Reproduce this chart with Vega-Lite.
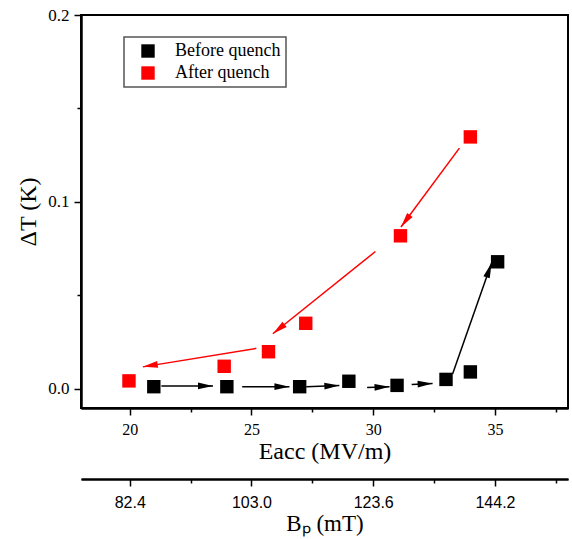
{
  "$schema": "https://vega.github.io/schema/vega-lite/v6.json",
  "width": 487,
  "height": 393,
  "autosize": {"type": "none"},
  "padding": {"left": 81, "top": 15, "right": 4, "bottom": 131},
  "background": "white",
  "datasets": {
    "pts": [
      {"series": "Before quench", "x": 20.99, "y": 0.0012},
      {"series": "Before quench", "x": 23.99, "y": 0.0012},
      {"series": "Before quench", "x": 26.98, "y": 0.0012},
      {"series": "Before quench", "x": 29.0, "y": 0.0041},
      {"series": "Before quench", "x": 30.98, "y": 0.0019},
      {"series": "Before quench", "x": 32.99, "y": 0.0051},
      {"series": "Before quench", "x": 33.99, "y": 0.0091},
      {"series": "Before quench", "x": 35.11, "y": 0.068},
      {"series": "After quench", "x": 19.97, "y": 0.0043},
      {"series": "After quench", "x": 23.88, "y": 0.0121},
      {"series": "After quench", "x": 25.7, "y": 0.0199},
      {"series": "After quench", "x": 27.23, "y": 0.0351},
      {"series": "After quench", "x": 31.12, "y": 0.0819},
      {"series": "After quench", "x": 33.99, "y": 0.1348}
    ],
    "arr": [
      {"series": "Before quench", "xs": 21.30, "ys": 0.0016, "xe": 23.42, "ye": 0.0016},
      {"series": "Before quench", "xs": 24.62, "ys": 0.0012, "xe": 26.56, "ye": 0.0012},
      {"series": "Before quench", "xs": 27.25, "ys": 0.0011, "xe": 28.61, "ye": 0.0019},
      {"series": "Before quench", "xs": 29.75, "ys": 0.0007, "xe": 30.67, "ye": 0.0011},
      {"series": "Before quench", "xs": 31.58, "ys": 0.0024, "xe": 32.44, "ye": 0.0029},
      {"series": "Before quench", "xs": 33.26, "ys": 0.008, "xe": 34.86, "ye": 0.0673},
      {"series": "After quench", "xs": 33.54, "ys": 0.1288, "xe": 31.14, "ye": 0.0866},
      {"series": "After quench", "xs": 30.09, "ys": 0.0735, "xe": 25.88, "ye": 0.0295},
      {"series": "After quench", "xs": 25.20, "ys": 0.0217, "xe": 20.54, "ye": 0.0118}
    ]
  },
  "layer": [
    {
      "data": {"name": "arr"},
      "mark": {"type": "rule", "strokeWidth": 1.5},
      "encoding": {
        "x": {"field": "xs", "type": "quantitative", "scale": {"domain": [18, 38], "nice": false, "zero": false},
          "axis": {"orient": "bottom", "values": [22.5, 27.5, 32.5, 37.5], "tickSize": 4, "labels": false, "title": null}},
        "x2": {"field": "xe"},
        "y": {"field": "ys", "type": "quantitative", "scale": {"domain": [-0.0102, 0.2], "nice": false, "zero": false},
          "axis": {"orient": "left", "values": [0.05, 0.15], "tickSize": 4, "labels": false, "title": null}},
        "y2": {"field": "ye"},
        "color": {"condition": {"test": "datum.series === 'After quench'", "value": "#ff0000"}, "value": "#000000"}
      }
    },
    {
      "data": {"name": "pts"},
      "mark": {"type": "square", "opacity": 0},
      "encoding": {
        "x": {"field": "x", "type": "quantitative", "scale": {"domain": [18, 38], "nice": false, "zero": false},
          "axis": {"orient": "bottom", "offset": 71, "values": [22.5, 27.5, 32.5, 37.5], "tickSize": 4, "labels": false, "title": null}},
        "y": {"field": "y", "type": "quantitative", "scale": {"domain": [-0.0102, 0.2], "nice": false, "zero": false}, "axis": null}
      }
    },
    {
      "data": {"name": "arr"},
      "transform": [
        {"calculate": "atan2(-(datum.ye - datum.ys) * 1871.4, (datum.xe - datum.xs) * 24.35) * 180 / PI", "as": "ang"}
      ],
      "mark": {"type": "point", "shape": "M0,0L-2,-0.45L-2,0.45Z", "filled": true, "size": 225, "opacity": 1, "strokeWidth": 0},
      "encoding": {
        "x": {"field": "xe", "type": "quantitative", "scale": {"domain": [18, 38], "nice": false, "zero": false},
          "axis": {"orient": "bottom", "offset": 71, "values": [20, 25, 30, 35], "labelExpr": "format(datum.value * 4.12, '.1f')", "labelFont": "Liberation Sans", "labelFontSize": 16, "tickSize": 7, "labelPadding": 8, "title": "Bₚ (mT)", "titleFontSize": 23, "titlePadding": 2}},
        "y": {"field": "ye", "type": "quantitative", "scale": {"domain": [-0.0102, 0.2], "nice": false, "zero": false}, "axis": null},
        "angle": {"field": "ang", "type": "quantitative", "scale": null},
        "color": {"condition": {"test": "datum.series === 'After quench'", "value": "#ff0000"}, "value": "#000000"}
      }
    },
    {
      "data": {"name": "pts"},
      "mark": {"type": "square", "size": 180, "opacity": 1},
      "encoding": {
        "x": {"field": "x", "type": "quantitative", "scale": {"domain": [18, 38], "nice": false, "zero": false},
          "axis": {"orient": "bottom", "values": [20, 25, 30, 35], "tickSize": 7, "labelPadding": 6, "title": "Eacc (MV/m)", "titleFontSize": 24, "titlePadding": 2}},
        "y": {"field": "y", "type": "quantitative", "scale": {"domain": [-0.0102, 0.2], "nice": false, "zero": false},
          "axis": {"orient": "left", "values": [0, 0.1, 0.2], "format": ".1f", "tickSize": 7, "labelPadding": 5, "labelFontSize": 17, "title": "ΔT (K)", "titleFontSize": 24, "titlePadding": 7}},
        "color": {"field": "series", "type": "nominal", "scale": {"domain": ["Before quench", "After quench"], "range": ["#000000", "#ff0000"]},
          "legend": {"orient": "none", "legendX": 43, "legendY": 22, "direction": "vertical", "title": null, "symbolType": "square"}}
      }
    }
  ],
  "resolve": {"axis": {"x": "independent", "y": "independent"}},
  "config": {
    "view": {"stroke": "black", "strokeWidth": 2},
    "axis": {
      "grid": false,
      "domainColor": "black",
      "domainWidth": 2,
      "tickColor": "black",
      "tickWidth": 1.5,
      "labelColor": "black",
      "titleColor": "black",
      "labelFont": "Liberation Serif",
      "titleFont": "Liberation Serif",
      "titleFontWeight": "normal",
      "labelFontSize": 16,
      "titleFontSize": 22
    },
    "legend": {
      "symbolSize": 180,
      "symbolStrokeWidth": 0,
      "labelFont": "Liberation Serif",
      "labelFontSize": 18,
      "labelColor": "black",
      "strokeColor": "#555555",
      "strokeWidth": 1.5,
      "padding": 5,
      "rowPadding": 4,
      "labelOffset": 18,
      "symbolOffset": 10
    }
  }
}
